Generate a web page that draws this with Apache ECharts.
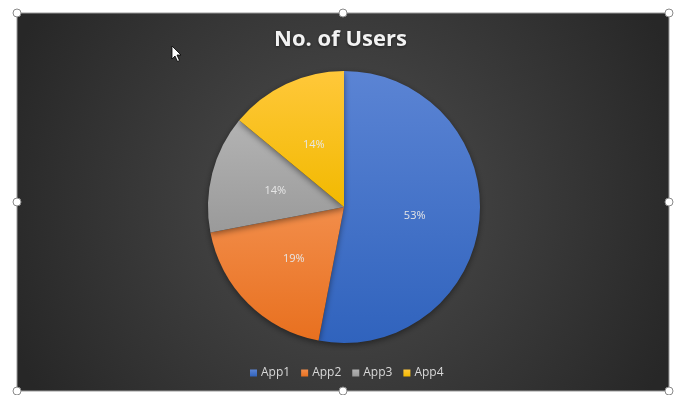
<!DOCTYPE html>
<html>
<head>
<meta charset="utf-8">
<script src="https://cdn.jsdelivr.net/npm/echarts@6/dist/echarts.min.js"></script>
<style>
  html, body { margin: 0; padding: 0; background: #ffffff; }
  #chart { width: 681px; height: 395px; }
</style>
</head>
<body>
<div id="chart"></div>
<script>
// Share of users per app (percent)
const apps = ['App1', 'App2', 'App3', 'App4'];
const userShare = [53, 19, 14, 14];
const sliceTop = ['#5b84d4', '#f28d4a', '#b3b3b3', '#ffc83a'];
const sliceBottom = ['#3063bd', '#e8701f', '#9a9a9a', '#f2b900'];

const chart = echarts.init(document.getElementById('chart'), null, { renderer: 'canvas' });

// Chart-area frame with selection handles
const frame = { x: 17, y: 13, w: 652, h: 378 };
const handlePts = [
  [frame.x, frame.y], [frame.x + frame.w / 2, frame.y], [frame.x + frame.w, frame.y],
  [frame.x, frame.y + frame.h / 2], [frame.x + frame.w, frame.y + frame.h / 2],
  [frame.x, frame.y + frame.h], [frame.x + frame.w / 2, frame.y + frame.h], [frame.x + frame.w, frame.y + frame.h]
];

const graphics = [
  {
    type: 'rect', z: -10, silent: true,
    shape: { x: frame.x, y: frame.y, width: frame.w, height: frame.h },
    style: {
      fill: new echarts.graphic.RadialGradient(0.5, 0.5, 0.95, [
        { offset: 0, color: '#4e4e4e' },
        { offset: 1, color: '#272727' }
      ]),
      stroke: '#9a9a9a', lineWidth: 1
    }
  },
  // pointer arrow
  {
    type: 'polygon', z: 50, silent: true,
    shape: { points: [[172, 46], [172, 59], [175, 56], [177.5, 61.5], [179.5, 60.5], [177, 55], [181, 55]] },
    style: { fill: '#ffffff', stroke: '#000000', lineWidth: 0.8 }
  }
];
handlePts.forEach(p => {
  graphics.push({
    type: 'circle', z: 40, silent: true,
    shape: { cx: p[0], cy: p[1], r: 4 },
    style: { fill: '#ffffff', stroke: '#8a8a8a', lineWidth: 1 }
  });
});

chart.setOption({
  backgroundColor: '#ffffff',
  animation: false,
  title: {
    text: 'No. of Users',
    left: 'center',
    top: 24,
    textStyle: {
      color: '#f2f2f2',
      fontFamily: 'Open Sans',
      fontWeight: 'bold',
      fontSize: 22,
      textShadowColor: 'rgba(0,0,0,0.5)',
      textShadowBlur: 3,
      textShadowOffsetY: 1
    }
  },
  legend: {
    data: apps,
    bottom: 11,
    left: 245,
    itemWidth: 7,
    itemHeight: 7,
    itemGap: 11,
    icon: 'rect',
    textStyle: { color: '#d9d9d9', fontFamily: 'Open Sans', fontSize: 12, padding: [0, 0, 0, -1] }
  },
  graphic: graphics,
  series: [{
    type: 'pie',
    center: [344, 207],
    radius: [0, 136],
    startAngle: 90,
    clockwise: true,
    avoidLabelOverlap: false,
    label: {
      show: true,
      position: 'inside',
      formatter: p => p.value + '%',
      color: '#e6e6e6',
      fontFamily: 'Open Sans',
      fontSize: 11,
      offset: [0, 2]
    },
    labelLine: { show: false },
    itemStyle: {
      borderWidth: 0,
      shadowColor: 'rgba(0,0,0,0.45)',
      shadowBlur: 6,
      shadowOffsetY: 2
    },
    data: apps.map((name, i) => ({
      name: name,
      value: userShare[i],
      itemStyle: {
        color: new echarts.graphic.LinearGradient(0, 0, 0, 1, [
          { offset: 0, color: sliceTop[i] },
          { offset: 1, color: sliceBottom[i] }
        ])
      }
    }))
  }]
});
</script>
</body>
</html>
